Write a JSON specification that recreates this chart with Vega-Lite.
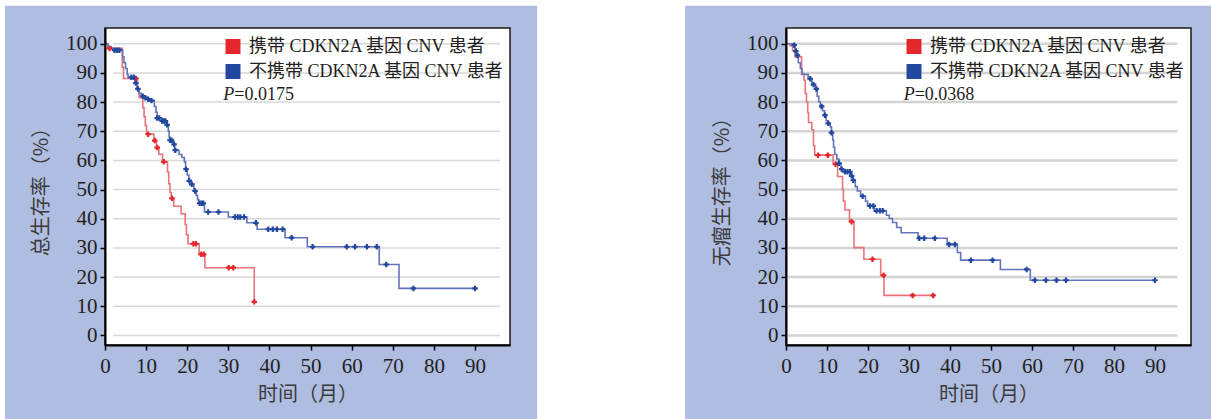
{
"$schema":"https://vega.github.io/schema/vega-lite/v6.json",
"background":"white",
"padding":{"left":5,"top":5,"right":0,"bottom":0},
"autosize":{"type":"pad"},
"bounds":"flush",
"spacing":276,
"datasets":{
"grid":[{"v":0},{"v":10},{"v":20},{"v":30},{"v":40},{"v":50},{"v":60},{"v":70},{"v":80},{"v":90},{"v":100}],
"km":[
{"p":"OS","g":"携带","k":"s","t":0,"v":100},{"p":"OS","g":"携带","k":"s","t":0.8,"v":98.4},{"p":"OS","g":"携带","k":"s","t":4.2,"v":92},{"p":"OS","g":"携带","k":"s","t":4.5,"v":88.1},{"p":"OS","g":"携带","k":"s","t":7.9,"v":84.3},{"p":"OS","g":"携带","k":"s","t":8.3,"v":81.5},{"p":"OS","g":"携带","k":"s","t":9.2,"v":78},{"p":"OS","g":"携带","k":"s","t":9.5,"v":75},{"p":"OS","g":"携带","k":"s","t":9.8,"v":72},{"p":"OS","g":"携带","k":"s","t":10.1,"v":69},{"p":"OS","g":"携带","k":"s","t":11.9,"v":66.8},{"p":"OS","g":"携带","k":"s","t":12.5,"v":64.4},{"p":"OS","g":"携带","k":"s","t":13.1,"v":62.1},{"p":"OS","g":"携带","k":"s","t":14,"v":59.5},{"p":"OS","g":"携带","k":"s","t":15.2,"v":56},{"p":"OS","g":"携带","k":"s","t":15.5,"v":52},{"p":"OS","g":"携带","k":"s","t":15.8,"v":49},{"p":"OS","g":"携带","k":"s","t":16.1,"v":47},{"p":"OS","g":"携带","k":"s","t":16.7,"v":44.3},{"p":"OS","g":"携带","k":"s","t":18.5,"v":41.7},{"p":"OS","g":"携带","k":"s","t":19.5,"v":38},{"p":"OS","g":"携带","k":"s","t":19.8,"v":34.5},{"p":"OS","g":"携带","k":"s","t":20.2,"v":31.4},{"p":"OS","g":"携带","k":"s","t":22.9,"v":27.8},{"p":"OS","g":"携带","k":"s","t":24.3,"v":23.2},{"p":"OS","g":"携带","k":"s","t":36.3,"v":11.5},
{"p":"OS","g":"携带","k":"c","t":1.1,"v":98.4},{"p":"OS","g":"携带","k":"c","t":7.5,"v":88.1},{"p":"OS","g":"携带","k":"c","t":10.5,"v":69},{"p":"OS","g":"携带","k":"c","t":12.1,"v":66.8},{"p":"OS","g":"携带","k":"c","t":12.7,"v":64.4},{"p":"OS","g":"携带","k":"c","t":14.3,"v":59.5},{"p":"OS","g":"携带","k":"c","t":16.3,"v":47},{"p":"OS","g":"携带","k":"c","t":21.5,"v":31.4},{"p":"OS","g":"携带","k":"c","t":22.1,"v":31.4},{"p":"OS","g":"携带","k":"c","t":23.4,"v":27.8},{"p":"OS","g":"携带","k":"c","t":24,"v":27.8},{"p":"OS","g":"携带","k":"c","t":30.1,"v":23.2},{"p":"OS","g":"携带","k":"c","t":31.2,"v":23.2},{"p":"OS","g":"携带","k":"c","t":36.3,"v":11.5},
{"p":"OS","g":"不携带","k":"s","t":0,"v":100},{"p":"OS","g":"不携带","k":"s","t":0.7,"v":99},{"p":"OS","g":"不携带","k":"s","t":1.5,"v":98.4},{"p":"OS","g":"不携带","k":"s","t":2,"v":97.8},{"p":"OS","g":"不携带","k":"s","t":4.3,"v":95.5},{"p":"OS","g":"不携带","k":"s","t":4.6,"v":93.5},{"p":"OS","g":"不携带","k":"s","t":5,"v":91.5},{"p":"OS","g":"不携带","k":"s","t":5.4,"v":89.5},{"p":"OS","g":"不携带","k":"s","t":5.6,"v":88.5},{"p":"OS","g":"不携带","k":"s","t":7.3,"v":86.5},{"p":"OS","g":"不携带","k":"s","t":7.8,"v":84.5},{"p":"OS","g":"不携带","k":"s","t":8.3,"v":83},{"p":"OS","g":"不携带","k":"s","t":8.8,"v":82},{"p":"OS","g":"不携带","k":"s","t":9.6,"v":81.5},{"p":"OS","g":"不携带","k":"s","t":10.4,"v":81},{"p":"OS","g":"不携带","k":"s","t":11.2,"v":80.5},{"p":"OS","g":"不携带","k":"s","t":12,"v":78.5},{"p":"OS","g":"不携带","k":"s","t":12.4,"v":76.5},{"p":"OS","g":"不携带","k":"s","t":12.7,"v":74.5},{"p":"OS","g":"不携带","k":"s","t":13.8,"v":73.5},{"p":"OS","g":"不携带","k":"s","t":15.1,"v":72.2},{"p":"OS","g":"不携带","k":"s","t":15.4,"v":70},{"p":"OS","g":"不携带","k":"s","t":15.6,"v":68},{"p":"OS","g":"不携带","k":"s","t":15.8,"v":66.9},{"p":"OS","g":"不携带","k":"s","t":16.6,"v":65.5},{"p":"OS","g":"不携带","k":"s","t":16.9,"v":63.5},{"p":"OS","g":"不携带","k":"s","t":18,"v":62},{"p":"OS","g":"不携带","k":"s","t":18.7,"v":61},{"p":"OS","g":"不携带","k":"s","t":19.3,"v":59.5},{"p":"OS","g":"不携带","k":"s","t":19.6,"v":57},{"p":"OS","g":"不携带","k":"s","t":20,"v":55},{"p":"OS","g":"不携带","k":"s","t":20.4,"v":53},{"p":"OS","g":"不携带","k":"s","t":21,"v":51.8},{"p":"OS","g":"不携带","k":"s","t":21.6,"v":49.5},{"p":"OS","g":"不携带","k":"s","t":22.2,"v":48},{"p":"OS","g":"不携带","k":"s","t":22.5,"v":46.5},{"p":"OS","g":"不携带","k":"s","t":22.8,"v":45.3},{"p":"OS","g":"不携带","k":"s","t":24.2,"v":42.3},{"p":"OS","g":"不携带","k":"s","t":30,"v":40.6},{"p":"OS","g":"不携带","k":"s","t":34.5,"v":38.6},{"p":"OS","g":"不携带","k":"s","t":37,"v":36.4},{"p":"OS","g":"不携带","k":"s","t":43.8,"v":33.5},{"p":"OS","g":"不携带","k":"s","t":49.2,"v":30.4},{"p":"OS","g":"不携带","k":"s","t":66.7,"v":24.3},{"p":"OS","g":"不携带","k":"s","t":71.5,"v":16.1},{"p":"OS","g":"不携带","k":"s","t":90,"v":16.1},
{"p":"OS","g":"不携带","k":"c","t":2.3,"v":97.8},{"p":"OS","g":"不携带","k":"c","t":2.9,"v":97.8},{"p":"OS","g":"不携带","k":"c","t":3.5,"v":97.8},{"p":"OS","g":"不携带","k":"c","t":6.4,"v":88.5},{"p":"OS","g":"不携带","k":"c","t":7,"v":88.5},{"p":"OS","g":"不携带","k":"c","t":7.5,"v":86.5},{"p":"OS","g":"不携带","k":"c","t":8,"v":84.5},{"p":"OS","g":"不携带","k":"c","t":9.2,"v":82},{"p":"OS","g":"不携带","k":"c","t":9.8,"v":81.5},{"p":"OS","g":"不携带","k":"c","t":10.5,"v":81},{"p":"OS","g":"不携带","k":"c","t":11.3,"v":80.5},{"p":"OS","g":"不携带","k":"c","t":12.7,"v":74.5},{"p":"OS","g":"不携带","k":"c","t":13.2,"v":74.5},{"p":"OS","g":"不携带","k":"c","t":13.9,"v":73.5},{"p":"OS","g":"不携带","k":"c","t":14.3,"v":73.5},{"p":"OS","g":"不携带","k":"c","t":14.7,"v":73.5},{"p":"OS","g":"不携带","k":"c","t":15.1,"v":72.2},{"p":"OS","g":"不携带","k":"c","t":15.8,"v":66.9},{"p":"OS","g":"不携带","k":"c","t":16.2,"v":66.9},{"p":"OS","g":"不携带","k":"c","t":16.8,"v":65.5},{"p":"OS","g":"不携带","k":"c","t":17.1,"v":63.5},{"p":"OS","g":"不携带","k":"c","t":19.7,"v":57},{"p":"OS","g":"不携带","k":"c","t":20.5,"v":53},{"p":"OS","g":"不携带","k":"c","t":21.1,"v":51.8},{"p":"OS","g":"不携带","k":"c","t":21.9,"v":49.5},{"p":"OS","g":"不携带","k":"c","t":23,"v":45.3},{"p":"OS","g":"不携带","k":"c","t":23.5,"v":45.3},{"p":"OS","g":"不携带","k":"c","t":23.9,"v":45.3},{"p":"OS","g":"不携带","k":"c","t":25.1,"v":42.3},{"p":"OS","g":"不携带","k":"c","t":27.6,"v":42.3},{"p":"OS","g":"不携带","k":"c","t":31.6,"v":40.6},{"p":"OS","g":"不携带","k":"c","t":32.3,"v":40.6},{"p":"OS","g":"不携带","k":"c","t":32.9,"v":40.6},{"p":"OS","g":"不携带","k":"c","t":33.8,"v":40.6},{"p":"OS","g":"不携带","k":"c","t":36.7,"v":38.6},{"p":"OS","g":"不携带","k":"c","t":39.7,"v":36.4},{"p":"OS","g":"不携带","k":"c","t":40.8,"v":36.4},{"p":"OS","g":"不携带","k":"c","t":41.8,"v":36.4},{"p":"OS","g":"不携带","k":"c","t":43.2,"v":36.4},{"p":"OS","g":"不携带","k":"c","t":45.4,"v":33.5},{"p":"OS","g":"不携带","k":"c","t":50.5,"v":30.4},{"p":"OS","g":"不携带","k":"c","t":58.8,"v":30.4},{"p":"OS","g":"不携带","k":"c","t":60.8,"v":30.4},{"p":"OS","g":"不携带","k":"c","t":63.7,"v":30.4},{"p":"OS","g":"不携带","k":"c","t":66.1,"v":30.4},{"p":"OS","g":"不携带","k":"c","t":68.4,"v":24.3},{"p":"OS","g":"不携带","k":"c","t":75,"v":16.1},{"p":"OS","g":"不携带","k":"c","t":90,"v":16.1},
{"p":"PFS","g":"携带","k":"s","t":0,"v":100},{"p":"PFS","g":"携带","k":"s","t":1,"v":99.3},{"p":"PFS","g":"携带","k":"s","t":1.6,"v":97.6},{"p":"PFS","g":"携带","k":"s","t":2.2,"v":95.5},{"p":"PFS","g":"携带","k":"s","t":3.8,"v":89.6},{"p":"PFS","g":"携带","k":"s","t":4.4,"v":87.5},{"p":"PFS","g":"携带","k":"s","t":4.7,"v":83},{"p":"PFS","g":"携带","k":"s","t":5,"v":80},{"p":"PFS","g":"携带","k":"s","t":5.3,"v":76.4},{"p":"PFS","g":"携带","k":"s","t":5.5,"v":73},{"p":"PFS","g":"携带","k":"s","t":6.3,"v":70.5},{"p":"PFS","g":"携带","k":"s","t":6.7,"v":65},{"p":"PFS","g":"携带","k":"s","t":7,"v":61.8},{"p":"PFS","g":"携带","k":"s","t":11.5,"v":58.7},{"p":"PFS","g":"携带","k":"s","t":12.6,"v":54.5},{"p":"PFS","g":"携带","k":"s","t":13.8,"v":50},{"p":"PFS","g":"携带","k":"s","t":14,"v":46},{"p":"PFS","g":"携带","k":"s","t":14.4,"v":43},{"p":"PFS","g":"携带","k":"s","t":15.5,"v":39},{"p":"PFS","g":"携带","k":"s","t":16.6,"v":30.1},{"p":"PFS","g":"携带","k":"s","t":19,"v":26.1},{"p":"PFS","g":"携带","k":"s","t":23.1,"v":20.6},{"p":"PFS","g":"携带","k":"s","t":23.9,"v":13.7},{"p":"PFS","g":"携带","k":"s","t":35.9,"v":13.7},
{"p":"PFS","g":"携带","k":"c","t":7.8,"v":61.8},{"p":"PFS","g":"携带","k":"c","t":10.2,"v":61.8},{"p":"PFS","g":"携带","k":"c","t":12.1,"v":58.7},{"p":"PFS","g":"携带","k":"c","t":16,"v":39},{"p":"PFS","g":"携带","k":"c","t":21.1,"v":26.1},{"p":"PFS","g":"携带","k":"c","t":23.8,"v":20.6},{"p":"PFS","g":"携带","k":"c","t":30.9,"v":13.7},{"p":"PFS","g":"携带","k":"c","t":35.9,"v":13.7},
{"p":"PFS","g":"不携带","k":"s","t":0,"v":100},{"p":"PFS","g":"不携带","k":"s","t":1.8,"v":99.5},{"p":"PFS","g":"不携带","k":"s","t":2.2,"v":97.5},{"p":"PFS","g":"不携带","k":"s","t":2.6,"v":96},{"p":"PFS","g":"不携带","k":"s","t":3,"v":93.5},{"p":"PFS","g":"不携带","k":"s","t":3.5,"v":91.5},{"p":"PFS","g":"不携带","k":"s","t":3.9,"v":89.5},{"p":"PFS","g":"不携带","k":"s","t":5.4,"v":88},{"p":"PFS","g":"不携带","k":"s","t":6.3,"v":86},{"p":"PFS","g":"不携带","k":"s","t":7.2,"v":84.5},{"p":"PFS","g":"不携带","k":"s","t":7.6,"v":82},{"p":"PFS","g":"不携带","k":"s","t":8,"v":80},{"p":"PFS","g":"不携带","k":"s","t":8.4,"v":78.5},{"p":"PFS","g":"不携带","k":"s","t":8.9,"v":77},{"p":"PFS","g":"不携带","k":"s","t":9.4,"v":75.5},{"p":"PFS","g":"不携带","k":"s","t":9.8,"v":73.6},{"p":"PFS","g":"不携带","k":"s","t":10.2,"v":72.7},{"p":"PFS","g":"不携带","k":"s","t":10.8,"v":71.5},{"p":"PFS","g":"不携带","k":"s","t":11.1,"v":69.5},{"p":"PFS","g":"不携带","k":"s","t":11.4,"v":67},{"p":"PFS","g":"不携带","k":"s","t":11.6,"v":64.5},{"p":"PFS","g":"不携带","k":"s","t":11.9,"v":62},{"p":"PFS","g":"不携带","k":"s","t":12.4,"v":60.5},{"p":"PFS","g":"不携带","k":"s","t":12.9,"v":59},{"p":"PFS","g":"不携带","k":"s","t":13.4,"v":57},{"p":"PFS","g":"不携带","k":"s","t":13.8,"v":56.1},{"p":"PFS","g":"不携带","k":"s","t":15.9,"v":54.7},{"p":"PFS","g":"不携带","k":"s","t":16.3,"v":53.2},{"p":"PFS","g":"不携带","k":"s","t":16.9,"v":51},{"p":"PFS","g":"不携带","k":"s","t":17.4,"v":49.5},{"p":"PFS","g":"不携带","k":"s","t":18.2,"v":47.7},{"p":"PFS","g":"不携带","k":"s","t":19.4,"v":46},{"p":"PFS","g":"不携带","k":"s","t":19.9,"v":44.4},{"p":"PFS","g":"不携带","k":"s","t":21.5,"v":42.7},{"p":"PFS","g":"不携带","k":"s","t":24.5,"v":41.2},{"p":"PFS","g":"不携带","k":"s","t":25.2,"v":40.1},{"p":"PFS","g":"不携带","k":"s","t":26,"v":38.7},{"p":"PFS","g":"不携带","k":"s","t":27,"v":37},{"p":"PFS","g":"不携带","k":"s","t":28.1,"v":35.2},{"p":"PFS","g":"不携带","k":"s","t":32.2,"v":33.3},{"p":"PFS","g":"不携带","k":"s","t":39.3,"v":31.2},{"p":"PFS","g":"不携带","k":"s","t":41.8,"v":28.4},{"p":"PFS","g":"不携带","k":"s","t":42.6,"v":25.8},{"p":"PFS","g":"不携带","k":"s","t":52.3,"v":22.6},{"p":"PFS","g":"不携带","k":"s","t":59.6,"v":18.9},{"p":"PFS","g":"不携带","k":"s","t":90,"v":18.9},
{"p":"PFS","g":"不携带","k":"c","t":2,"v":99.5},{"p":"PFS","g":"不携带","k":"c","t":2.4,"v":97.5},{"p":"PFS","g":"不携带","k":"c","t":2.8,"v":96},{"p":"PFS","g":"不携带","k":"c","t":5.9,"v":88},{"p":"PFS","g":"不携带","k":"c","t":6.7,"v":86},{"p":"PFS","g":"不携带","k":"c","t":7.4,"v":84.5},{"p":"PFS","g":"不携带","k":"c","t":8.7,"v":78.5},{"p":"PFS","g":"不携带","k":"c","t":9.5,"v":75.5},{"p":"PFS","g":"不携带","k":"c","t":10.3,"v":72.7},{"p":"PFS","g":"不携带","k":"c","t":11.1,"v":69.5},{"p":"PFS","g":"不携带","k":"c","t":12.9,"v":59},{"p":"PFS","g":"不携带","k":"c","t":13.6,"v":57},{"p":"PFS","g":"不携带","k":"c","t":14.4,"v":56.1},{"p":"PFS","g":"不携带","k":"c","t":15,"v":56.1},{"p":"PFS","g":"不携带","k":"c","t":15.6,"v":56.1},{"p":"PFS","g":"不携带","k":"c","t":16,"v":54.7},{"p":"PFS","g":"不携带","k":"c","t":16.4,"v":53.2},{"p":"PFS","g":"不携带","k":"c","t":18.7,"v":47.7},{"p":"PFS","g":"不携带","k":"c","t":20.5,"v":44.4},{"p":"PFS","g":"不携带","k":"c","t":21.3,"v":44.4},{"p":"PFS","g":"不携带","k":"c","t":22.1,"v":42.7},{"p":"PFS","g":"不携带","k":"c","t":22.9,"v":42.7},{"p":"PFS","g":"不携带","k":"c","t":23.6,"v":42.7},{"p":"PFS","g":"不携带","k":"c","t":32.5,"v":33.3},{"p":"PFS","g":"不携带","k":"c","t":33.7,"v":33.3},{"p":"PFS","g":"不携带","k":"c","t":36.3,"v":33.3},{"p":"PFS","g":"不携带","k":"c","t":39.8,"v":31.2},{"p":"PFS","g":"不携带","k":"c","t":41.2,"v":31.2},{"p":"PFS","g":"不携带","k":"c","t":45.1,"v":25.8},{"p":"PFS","g":"不携带","k":"c","t":50.4,"v":25.8},{"p":"PFS","g":"不携带","k":"c","t":58.7,"v":22.6},{"p":"PFS","g":"不携带","k":"c","t":60.7,"v":18.9},{"p":"PFS","g":"不携带","k":"c","t":63.4,"v":18.9},{"p":"PFS","g":"不携带","k":"c","t":66,"v":18.9},{"p":"PFS","g":"不携带","k":"c","t":68.3,"v":18.9},{"p":"PFS","g":"不携带","k":"c","t":90,"v":18.9}
]},
"hconcat":[
{"width":405,"height":317,
"layer":[
{"data":{"values":[{}]},"mark":{"type":"rect","fill":"#afbde0"},
"encoding":{
"x":{"datum":-24.3,"type":"quantitative","scale":{"domain":[0,98.5],"nice":false,"zero":false},"axis":{"zindex":1,"labelOverlap":false,"title":"时间（月）","values":[0,10,20,30,40,50,60,70,80,90],"tickCount":10}},
"x2":{"datum":105.1},
"y":{"datum":113,"type":"quantitative","scale":{"domain":[-3.3,105.4],"nice":false,"zero":false},"axis":{"zindex":1,"labelOverlap":false,"title":"总生存率（%）","values":[0,10,20,30,40,50,60,70,80,90,100],"tickCount":11}},
"y2":{"datum":-31.5}}},
{"data":{"values":[{}]},"mark":{"type":"rect","fill":"white","stroke":"#1a1a1a","strokeWidth":1.5},
"encoding":{"x":{"datum":0,"type":"quantitative","axis":{"zindex":1,"labelOverlap":false,"title":"时间（月）","values":[0,10,20,30,40,50,60,70,80,90],"tickCount":10}},"x2":{"datum":98.5},"y":{"datum":-3.3,"type":"quantitative","axis":{"zindex":1,"labelOverlap":false,"title":"总生存率（%）","values":[0,10,20,30,40,50,60,70,80,90,100],"tickCount":11}},"y2":{"datum":105.4}}},
{"data":{"name":"grid"},"mark":{"type":"rule","stroke":"#d9d9d9","strokeWidth":1.5},
"encoding":{"y":{"field":"v","type":"quantitative","axis":{"zindex":1,"labelOverlap":false,"title":"总生存率（%）","values":[0,10,20,30,40,50,60,70,80,90,100],"tickCount":11}},"x":{"datum":1.9,"type":"quantitative","axis":{"zindex":1,"labelOverlap":false,"title":"时间（月）","values":[0,10,20,30,40,50,60,70,80,90],"tickCount":10}},"x2":{"datum":96.1}}},
{"data":{"name":"km"},"transform":[{"filter":"datum.p=='OS' && datum.k=='s'"}],
"mark":{"type":"line","interpolate":"step-after","strokeWidth":1.6},
"encoding":{"x":{"field":"t","type":"quantitative","axis":{"zindex":1,"labelOverlap":false,"title":"时间（月）","values":[0,10,20,30,40,50,60,70,80,90],"tickCount":10}},"y":{"field":"v","type":"quantitative","axis":{"zindex":1,"labelOverlap":false,"title":"总生存率（%）","values":[0,10,20,30,40,50,60,70,80,90,100],"tickCount":11}},
"stroke":{"field":"g","type":"nominal","scale":{"range":["#6474bc","#e9737b"]},"legend":null}}},
{"data":{"name":"km"},"transform":[{"filter":"datum.p=='OS' && datum.k=='c'"}],
"mark":{"type":"point","shape":"cross","filled":true,"size":30,"opacity":1},
"encoding":{"x":{"field":"t","type":"quantitative","axis":{"zindex":1,"labelOverlap":false,"title":"时间（月）","values":[0,10,20,30,40,50,60,70,80,90],"tickCount":10}},"y":{"field":"v","type":"quantitative","axis":{"zindex":1,"labelOverlap":false,"title":"总生存率（%）","values":[0,10,20,30,40,50,60,70,80,90,100],"tickCount":11}},
"color":{"field":"g","type":"nominal","scale":{"domain":["携带","不携带"],"range":["#e4262d","#22479e"]},
"legend":{"orient":"none","legendX":119,"legendY":9.5,"title":null,"zindex":2,"labelExpr":"datum.label + ' CDKN2A 基因 CNV 患者'",
"encode":{"symbols":{"update":{"shape":{"value":"square"},"size":{"value":225},"strokeWidth":{"value":0},"opacity":{"value":1}}}}}}}},
{"data":{"values":[{"a":"P","b":"=0.0175"}]},"mark":{"type":"text","font":"Liberation Serif","fontSize":18,"fontStyle":"italic","align":"left","baseline":"middle","color":"#231f20"},
"encoding":{"x":{"datum":28.76,"type":"quantitative","axis":{"zindex":1,"labelOverlap":false,"title":"时间（月）","values":[0,10,20,30,40,50,60,70,80,90],"tickCount":10}},"y":{"datum":82.4,"type":"quantitative","axis":{"zindex":1,"labelOverlap":false,"title":"总生存率（%）","values":[0,10,20,30,40,50,60,70,80,90,100],"tickCount":11}},"text":{"field":"a"}}},
{"data":{"values":[{"a":"P","b":"=0.0175"}]},"mark":{"type":"text","font":"Liberation Serif","fontSize":18,"align":"left","baseline":"middle","color":"#231f20","dx":11},
"encoding":{"x":{"datum":28.76,"type":"quantitative","axis":{"zindex":1,"labelOverlap":false,"title":"时间（月）","values":[0,10,20,30,40,50,60,70,80,90],"tickCount":10}},"y":{"datum":82.4,"type":"quantitative","axis":{"zindex":1,"labelOverlap":false,"title":"总生存率（%）","values":[0,10,20,30,40,50,60,70,80,90,100],"tickCount":11}},"text":{"field":"b"}}}
]},
{"width":405,"height":317,
"layer":[
{"data":{"values":[{}]},"mark":{"type":"rect","fill":"#afbde0"},
"encoding":{
"x":{"datum":-24.6,"type":"quantitative","scale":{"domain":[0,98.8],"nice":false,"zero":false},"axis":{"zindex":1,"labelOverlap":false,"title":"时间（月）","values":[0,10,20,30,40,50,60,70,80,90],"tickCount":10}},
"x2":{"datum":106},
"y":{"datum":113,"type":"quantitative","scale":{"domain":[-3.3,105.4],"nice":false,"zero":false},"axis":{"zindex":1,"labelOverlap":false,"title":"无瘤生存率（%）","values":[0,10,20,30,40,50,60,70,80,90,100],"tickCount":11}},
"y2":{"datum":-31.5}}},
{"data":{"values":[{}]},"mark":{"type":"rect","fill":"white","stroke":"#1a1a1a","strokeWidth":1.5},
"encoding":{"x":{"datum":0,"type":"quantitative","axis":{"zindex":1,"labelOverlap":false,"title":"时间（月）","values":[0,10,20,30,40,50,60,70,80,90],"tickCount":10}},"x2":{"datum":98.8},"y":{"datum":-3.3,"type":"quantitative","axis":{"zindex":1,"labelOverlap":false,"title":"无瘤生存率（%）","values":[0,10,20,30,40,50,60,70,80,90,100],"tickCount":11}},"y2":{"datum":105.4}}},
{"data":{"name":"grid"},"mark":{"type":"rule","stroke":"#d4d4d4","strokeWidth":2.5},
"encoding":{"y":{"field":"v","type":"quantitative","axis":{"zindex":1,"labelOverlap":false,"title":"无瘤生存率（%）","values":[0,10,20,30,40,50,60,70,80,90,100],"tickCount":11}},"x":{"datum":0.5,"type":"quantitative","axis":{"zindex":1,"labelOverlap":false,"title":"时间（月）","values":[0,10,20,30,40,50,60,70,80,90],"tickCount":10}},"x2":{"datum":95.5}}},
{"data":{"name":"km"},"transform":[{"filter":"datum.p=='PFS' && datum.k=='s'"}],
"mark":{"type":"line","interpolate":"step-after","strokeWidth":1.6},
"encoding":{"x":{"field":"t","type":"quantitative","axis":{"zindex":1,"labelOverlap":false,"title":"时间（月）","values":[0,10,20,30,40,50,60,70,80,90],"tickCount":10}},"y":{"field":"v","type":"quantitative","axis":{"zindex":1,"labelOverlap":false,"title":"无瘤生存率（%）","values":[0,10,20,30,40,50,60,70,80,90,100],"tickCount":11}},
"stroke":{"field":"g","type":"nominal","scale":{"range":["#6474bc","#e9737b"]},"legend":null}}},
{"data":{"name":"km"},"transform":[{"filter":"datum.p=='PFS' && datum.k=='c'"}],
"mark":{"type":"point","shape":"cross","filled":true,"size":30,"opacity":1},
"encoding":{"x":{"field":"t","type":"quantitative","axis":{"zindex":1,"labelOverlap":false,"title":"时间（月）","values":[0,10,20,30,40,50,60,70,80,90],"tickCount":10}},"y":{"field":"v","type":"quantitative","axis":{"zindex":1,"labelOverlap":false,"title":"无瘤生存率（%）","values":[0,10,20,30,40,50,60,70,80,90,100],"tickCount":11}},
"color":{"field":"g","type":"nominal","scale":{"domain":["携带","不携带"],"range":["#e4262d","#22479e"]},
"legend":{"orient":"none","legendX":119,"legendY":9.5,"title":null,"zindex":2,"labelExpr":"datum.label + ' CDKN2A 基因 CNV 患者'",
"encode":{"symbols":{"update":{"shape":{"value":"square"},"size":{"value":225},"strokeWidth":{"value":0},"opacity":{"value":1}}}}}}}},
{"data":{"values":[{"a":"P","b":"=0.0368"}]},"mark":{"type":"text","font":"Liberation Serif","fontSize":18,"fontStyle":"italic","align":"left","baseline":"middle","color":"#231f20"},
"encoding":{"x":{"datum":28.7,"type":"quantitative","axis":{"zindex":1,"labelOverlap":false,"title":"时间（月）","values":[0,10,20,30,40,50,60,70,80,90],"tickCount":10}},"y":{"datum":82.4,"type":"quantitative","axis":{"zindex":1,"labelOverlap":false,"title":"无瘤生存率（%）","values":[0,10,20,30,40,50,60,70,80,90,100],"tickCount":11}},"text":{"field":"a"}}},
{"data":{"values":[{"a":"P","b":"=0.0368"}]},"mark":{"type":"text","font":"Liberation Serif","fontSize":18,"align":"left","baseline":"middle","color":"#231f20","dx":11},
"encoding":{"x":{"datum":28.7,"type":"quantitative","axis":{"zindex":1,"labelOverlap":false,"title":"时间（月）","values":[0,10,20,30,40,50,60,70,80,90],"tickCount":10}},"y":{"datum":82.4,"type":"quantitative","axis":{"zindex":1,"labelOverlap":false,"title":"无瘤生存率（%）","values":[0,10,20,30,40,50,60,70,80,90,100],"tickCount":11}},"text":{"field":"b"}}}
]}
],
"resolve":{"scale":{"x":"independent","y":"independent","color":"independent","stroke":"independent"}},
"config":{
"view":{"stroke":null},
"axis":{"grid":false,"domainColor":"#000","domainWidth":2,"tickColor":"#000","tickWidth":1.5,"tickSize":5,
"labelFont":"Liberation Serif","labelFontSize":21,"labelColor":"#231f20","labelPadding":3,"labelFlush":false,"labelOverlap":false,
"titleFont":"Noto Sans CJK SC","titleFontSize":20,"titleFontWeight":"normal","titleColor":"#3a3a3a"},
"axisX":{"labelPadding":5,"titlePadding":8},
"axisY":{"titlePadding":14},
"legend":{"symbolType":"square","symbolSize":225,"symbolStrokeWidth":0,"symbolOpacity":1,
"labelFont":"Liberation Serif, Noto Sans CJK SC","labelFontSize":18,"labelColor":"#231f20","labelOffset":7,"rowPadding":7,"padding":0,"labelLimit":400}
}
}
